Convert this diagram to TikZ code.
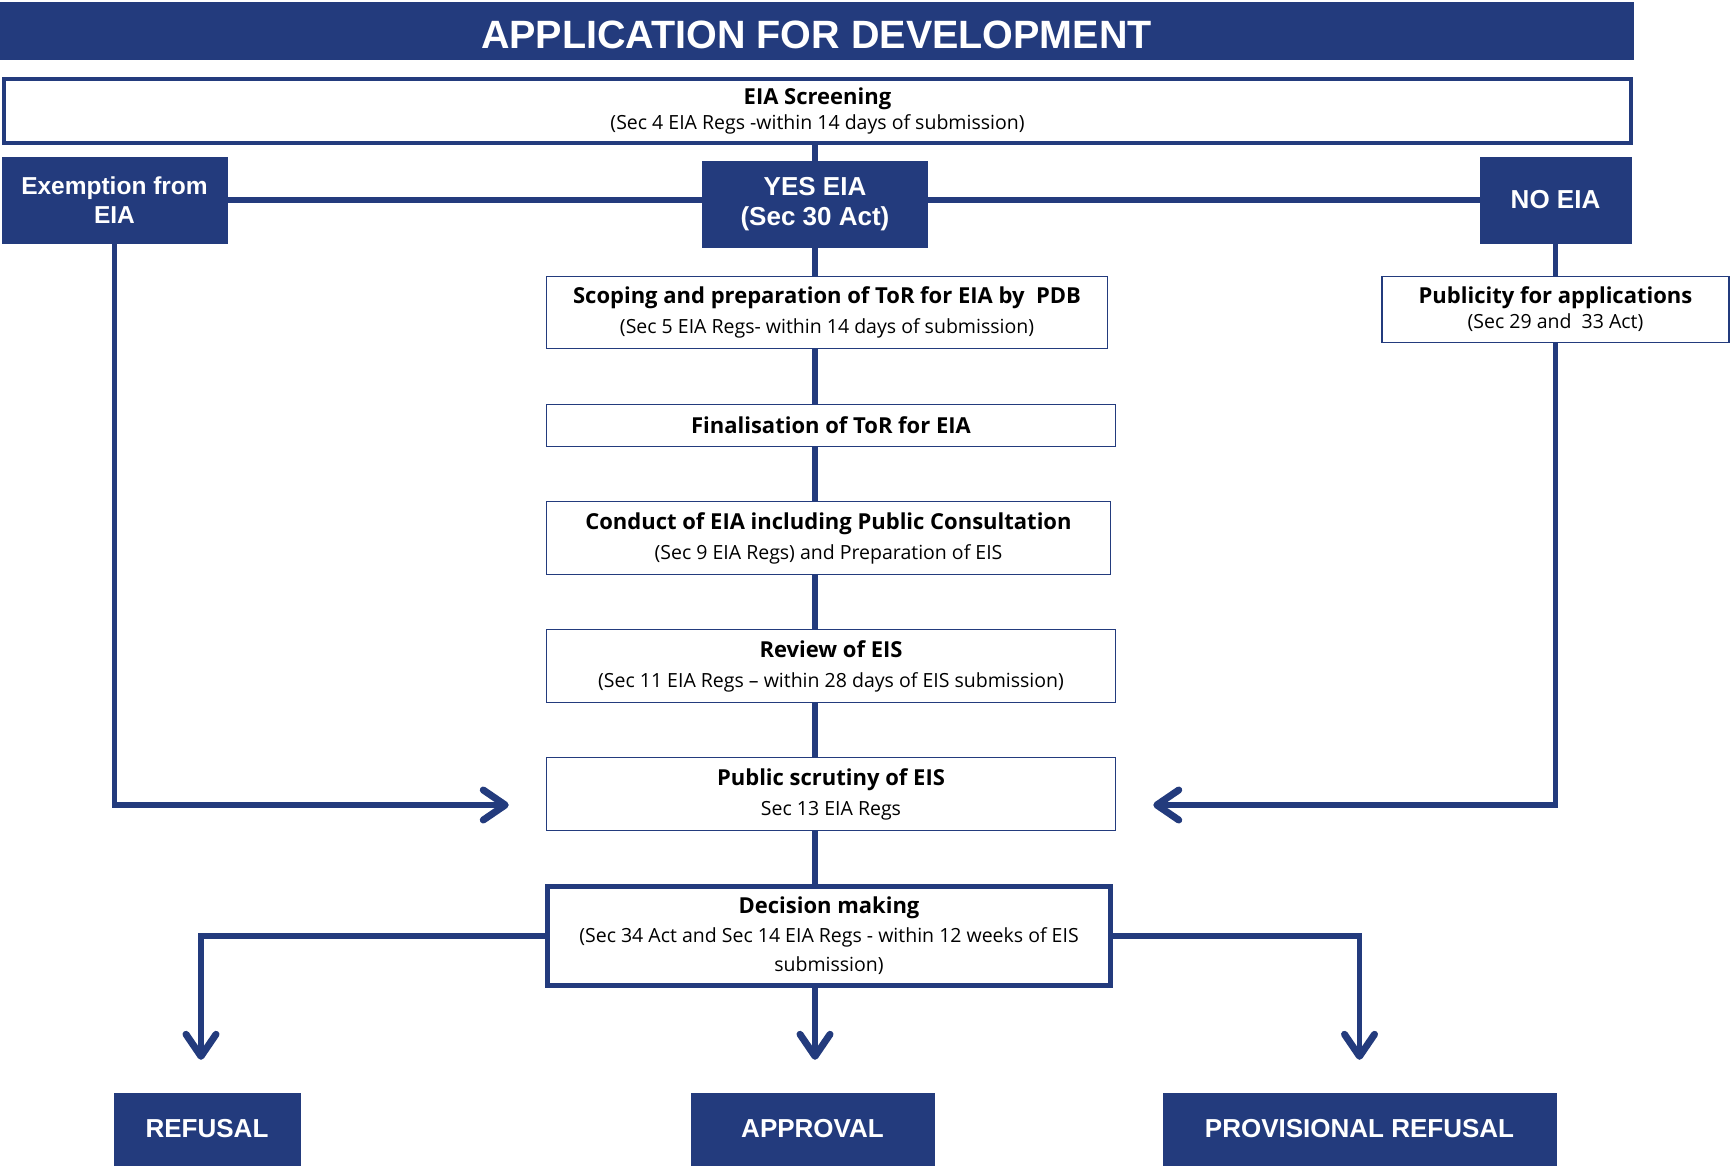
\documentclass[tikz,border=0pt]{standalone}
\usepackage{fontspec}
\setmainfont{Open Sans}
\newfontfamily\boxfont{Liberation Sans}
\usetikzlibrary{arrows.meta,positioning,calc}
\definecolor{eianavy}{RGB}{35,59,125}
\newcommand{\stagehead}[1]{{\fontsize{22}{30}\selectfont\bfseries #1}}

\begin{document}
\begin{tikzpicture}[x=1pt, y=-1pt,
  dark/.style={fill=eianavy, draw=eianavy, text=white, align=center, inner sep=0pt, font=\boxfont\bfseries\fontsize{26}{30}\selectfont},
  stage/.style={draw=eianavy, line width=1.5pt, fill=white, align=center, inner sep=0pt, font=\fontsize{19.5}{30}\selectfont},
  link/.style={draw=eianavy, line width=5.5pt},
  arr/.style={link, -{Straight Barb[round, length=22pt, width=30pt, line width=7pt]}},
]
\useasboundingbox[fill=white] (0,0) rectangle (1734,1170);
\coordinate (spine) at (815,0);

\node[dark, minimum width=1633pt, minimum height=57pt, text height=36pt, text depth=0pt, font=\boxfont\bfseries\fontsize{39.5}{40}\selectfont] (title) at (816.5,30.5) {APPLICATION FOR DEVELOPMENT};
\node[stage, line width=4.5pt, minimum width=1627pt, minimum height=64pt, font=\fontsize{19.5}{25}\selectfont] (screen) at (817.5,111) {\stagehead{EIA Screening}\\(Sec 4 EIA Regs -within 14 days of submission)};

\node[dark, minimum width=225pt, minimum height=86pt, font=\boxfont\bfseries\fontsize{24.5}{29}\selectfont] (exempt) at (114.5,200) {Exemption from\\EIA};
\node[dark, minimum width=225pt, minimum height=86pt] (yes) at (815,204) {YES EIA\\(Sec 30 Act)};
\node[dark, minimum width=151pt, minimum height=86pt] (noeia) at (1555.5,200) {NO EIA};

\node[stage, minimum width=561pt, minimum height=72pt] (scoping) at (827,312.5) {\stagehead{Scoping and preparation of ToR for EIA by\ \ PDB}\\(Sec 5 EIA Regs- within 14 days of submission)};
\node[stage, minimum width=347pt, minimum height=66pt, font=\fontsize{19.5}{25}\selectfont] (publicity) at (1555.5,309.5) {\stagehead{Publicity for applications}\\(Sec 29 and\ \ 33 Act)};
\node[stage, minimum width=569pt, minimum height=42pt] (final) at (831,425.5) {\stagehead{Finalisation of ToR for EIA}};
\node[stage, minimum width=564pt, minimum height=73pt] (conduct) at (828.5,538) {\stagehead{Conduct of EIA including Public Consultation}\\(Sec 9 EIA Regs) and Preparation of EIS};
\node[stage, minimum width=569pt, minimum height=73pt] (review) at (831,666) {\stagehead{Review of EIS}\\(Sec 11 EIA Regs -- within 28 days of EIS submission)};
\node[stage, minimum width=569pt, minimum height=73pt] (scrutiny) at (831,794) {\stagehead{Public scrutiny of EIS}\\Sec 13 EIA Regs};
\node[stage, line width=4.5pt, minimum width=563pt, minimum height=99pt, font=\fontsize{19.5}{29}\selectfont] (decision) at (829,936) {\stagehead{Decision making}\\(Sec 34 Act and Sec 14 EIA Regs - within 12 weeks of EIS\\submission)};

\node[dark, minimum width=186pt, minimum height=72pt] (refusal) at (207,1129) {REFUSAL};
\node[dark, minimum width=243pt, minimum height=72pt] (approval) at (812.5,1129) {APPROVAL};
\node[dark, minimum width=393pt, minimum height=72pt] (provisional) at (1359.5,1129) {PROVISIONAL REFUSAL};

% main line
\foreach \a/\b in {screen/yes, yes/scoping, scoping/final, final/conduct, conduct/review, review/scrutiny, scrutiny/decision}
  \draw[link] (\a.south -| spine) -- (\b.north -| spine);
\draw[link] (exempt.east) -- (exempt.east -| yes.west);
\draw[link] (noeia.west -| yes.east) -- (noeia.west);

% side routes
\draw[arr] (exempt.south) |- ($(scrutiny.west)+(-37,11)$);
\draw[link] (noeia.south) -- (publicity.north);
\draw[arr] (publicity.south) |- ($(scrutiny.east)+(37,11)$);

% outcomes
\draw[arr] (decision.west) -| ($(refusal.north)+(-6,-33)$);
\draw[arr] (decision.south -| spine) -- ($(approval.north -| spine)+(0,-33)$);
\draw[arr] (decision.east) -| ($(provisional.north)+(0,-33)$);
\end{tikzpicture}
\end{document}
